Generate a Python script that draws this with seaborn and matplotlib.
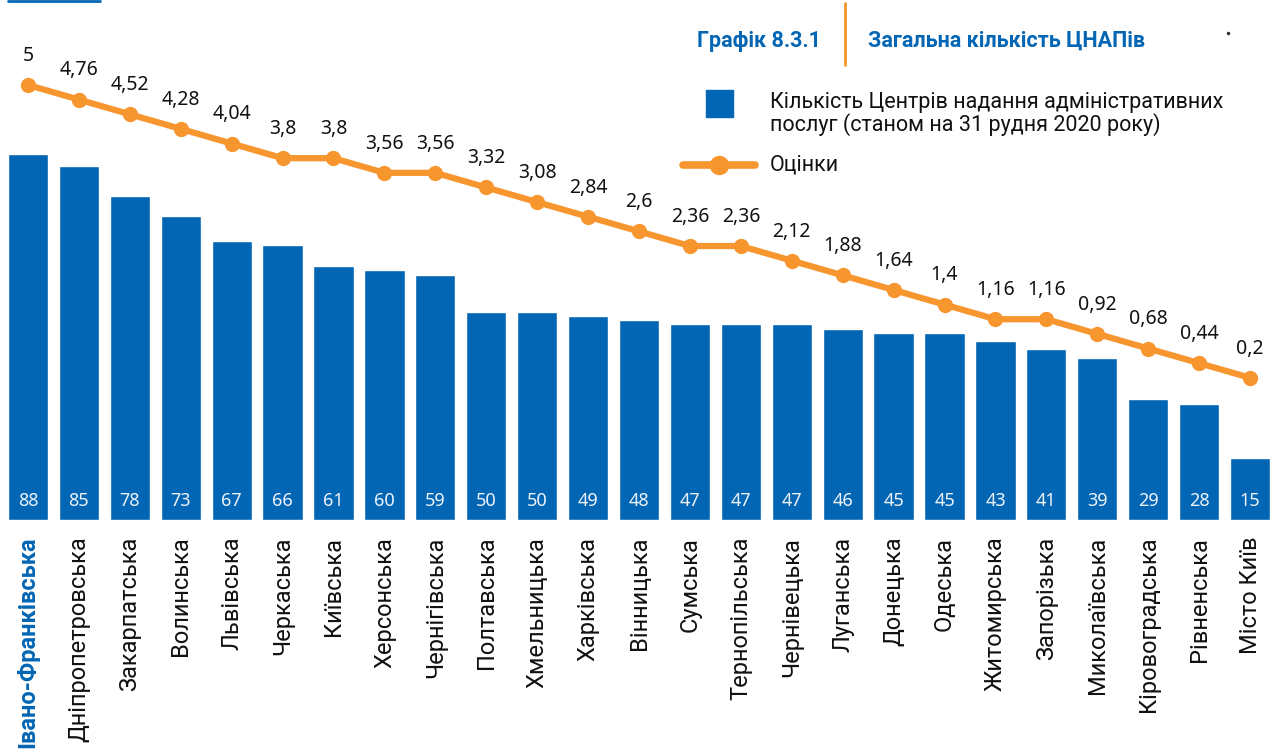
import numpy as np
import pandas as pd
import matplotlib
matplotlib.use('Agg')
import matplotlib.pyplot as plt
from matplotlib.patches import Rectangle
from matplotlib.lines import Line2D
import seaborn as sns

regions = ["Івано-Франківська", "Дніпропетровська", "Закарпатська", "Волинська",
           "Львівська", "Черкаська", "Київська", "Херсонська", "Чернігівська",
           "Полтавська", "Хмельницька", "Харківська", "Вінницька", "Сумська",
           "Тернопільська", "Чернівецька", "Луганська", "Донецька", "Одеська",
           "Житомирська", "Запорізька", "Миколаївська", "Кіровоградська",
           "Рівненська", "Місто Київ"]
centers = [88, 85, 78, 73, 67, 66, 61, 60, 59, 50, 50, 49, 48, 47, 47, 47,
           46, 45, 45, 43, 41, 39, 29, 28, 15]
scores = [5, 4.76, 4.52, 4.28, 4.04, 3.8, 3.8, 3.56, 3.56, 3.32, 3.08, 2.84,
          2.6, 2.36, 2.36, 2.12, 1.88, 1.64, 1.4, 1.16, 1.16, 0.92, 0.68, 0.44, 0.2]

BLUE = '#0366b4'
ORANGE = '#f7962f'
TXT = '#111111'

sns.set_style('white')
plt.rcParams['font.family'] = ['Roboto', 'DejaVu Sans']

df = pd.DataFrame({'region': regions, 'centers': centers, 'score': scores,
                   'pos': np.arange(len(regions))})

W, H = 1276, 751
fig = plt.figure(figsize=(W / 100, H / 100), dpi=100)
ax = fig.add_axes([2.5 / W, (H - 520) / H, 1273 / W, 520 / H])

# bars
sns.barplot(data=df, x='region', y='centers', color=BLUE, width=0.79,
            saturation=1, ax=ax)
ax.set_ylim(0, 125)
ax.set_xlim(-0.5, len(regions) - 0.5)
for i, v in enumerate(centers):
    ax.text(i, 4.6, str(v), color='#eef3fa', ha='center', va='center',
            fontsize=13, family=['Noto Sans', 'DejaVu Sans'])

# line on secondary axis
ax2 = ax.twinx()
sns.lineplot(data=df, x='pos', y='score', color=ORANGE, lw=4.5, marker='o',
             markersize=11, markeredgewidth=0, ax=ax2)
ax2.set_ylim(-2.131, 6.393)
ax2.set_xlim(-0.5, len(regions) - 0.5)
for i, v in enumerate(scores):
    lbl = f"{v:g}".replace('.', ',')
    ax2.annotate(lbl, (i, v), xytext=(0, 21), textcoords='offset points',
                 ha='center', va='center', fontsize=14, color=TXT,
                 family=['Noto Sans', 'DejaVu Sans'])

for a in (ax, ax2):
    for s in a.spines.values():
        s.set_visible(False)
    a.set_xlabel('')
    a.set_ylabel('')
    a.set_yticks([])
ax2.set_xticks([])

ax.tick_params(axis='x', length=0, pad=12)
ax.set_xticks(range(len(regions)))
ax.set_xticklabels(regions, rotation=90, va='top', ha='center', fontsize=17,
                   color=TXT)
first = ax.get_xticklabels()[0]
first.set_color(BLUE)
first.set_fontweight('bold')

# title
fig.text(697 / W, 1 - 41 / H, "Графік 8.3.1", color=BLUE, fontsize=15.5,
         fontweight='bold', va='center', ha='left')
fig.text(868 / W, 1 - 41 / H, "Загальна кількість ЦНАПів", color=BLUE,
         fontsize=15.5, fontweight='bold', va='center', ha='left')
fig.add_artist(Line2D([845 / W, 845 / W], [1 - 3 / H, 1 - 65 / H],
                      color=ORANGE, lw=2))
fig.add_artist(Line2D([1228 / W], [1 - 33 / H], marker='o', markersize=1.5,
                      color='#333333', lw=0))

# top-left remnant of a frame
fig.add_artist(Line2D([8 / W, 100 / W], [1 - 1 / H, 1 - 1 / H], color=BLUE, lw=2))

# legend
fig.add_artist(Rectangle((706 / W, 1 - 117 / H), 27 / W, 27 / H,
                         transform=fig.transFigure, color=BLUE))
fig.text(770 / W, 1 - 114 / H,
         "Кількість Центрів надання адміністративних\nпослуг (станом на 31 рудня 2020 року)",
         fontsize=15.5, va='center', ha='left', color=TXT, linespacing=1.05)
fig.add_artist(Line2D([683 / W, 755 / W], [1 - 165 / H, 1 - 165 / H],
                      color=ORANGE, lw=5.5))
fig.add_artist(Line2D([719 / W], [1 - 165 / H], color=ORANGE, marker='o',
                      markersize=13, lw=0))
fig.text(770 / W, 1 - 165 / H, "Оцінки", fontsize=15.5, va='center', ha='left',
         color=TXT)

fig.savefig('out.png', dpi=100)
